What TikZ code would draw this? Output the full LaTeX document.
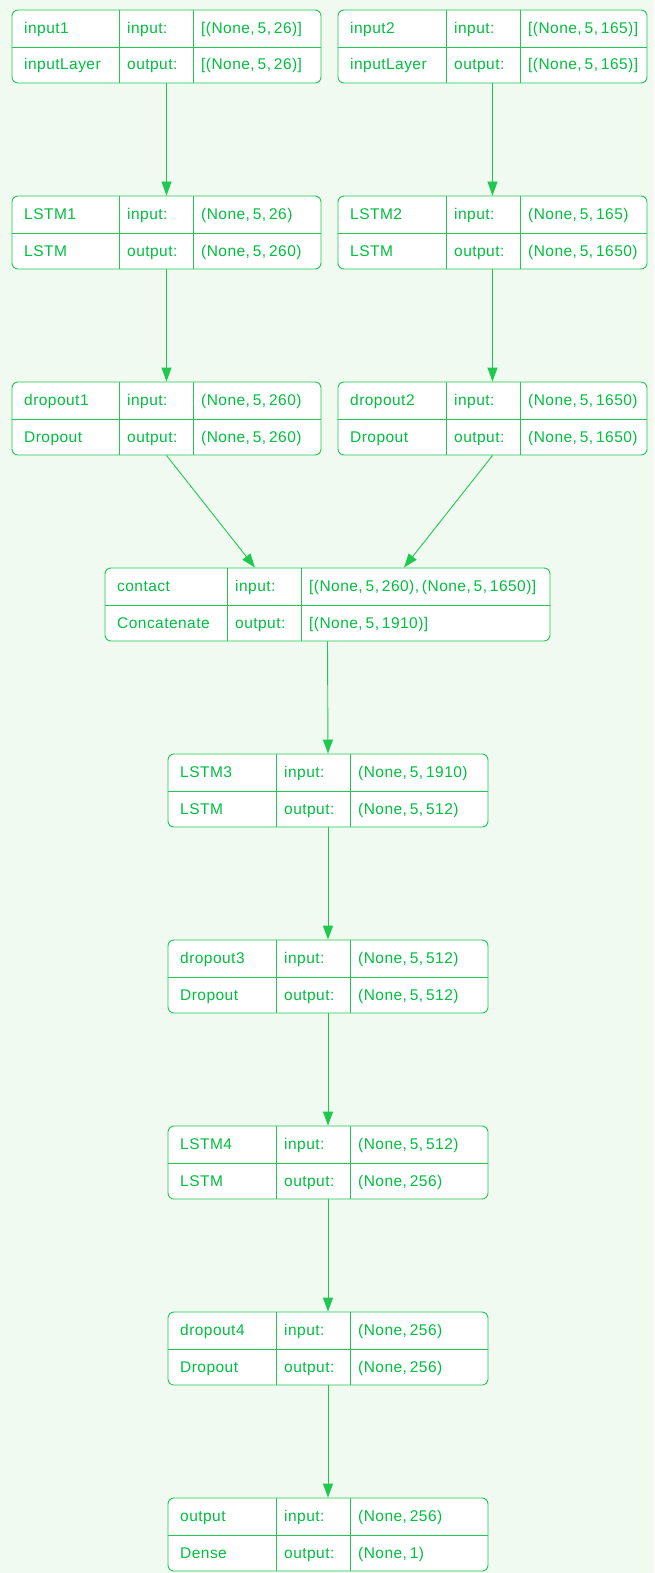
\documentclass[tikz,border=0pt]{standalone}
\usepackage{fontspec}
\setmainfont{Liberation Sans}[LetterSpace=3,WordSpace=0.6]
\usetikzlibrary{calc,arrows.meta}
\definecolor{bgc}{HTML}{F1FAF1}
\definecolor{lnc}{HTML}{1FC950}
\definecolor{txc}{HTML}{00BF3F}
\tikzset{
  layerbox/.style={draw=lnc, line width=0.9pt, fill=white, rounded corners=6pt, inner sep=0pt, minimum height=73pt},
  sep/.style={draw=lnc, line width=0.9pt},
  lbl/.style={text=txc, anchor=base west, inner sep=0pt, font=\fontsize{15.5}{18}\selectfont},
  arr/.style={draw=lnc, line width=0.9pt, -{Triangle[length=14pt,width=10pt]}}
}
% #1 name, #2 left, #3 top, #4 right, #5 first column width, #6 name text, #7 type text, #8 input, #9 output
\newcommand\layerunit[9]{%
  \node[layerbox, minimum width={#4-#2}] (#1) at ({(#2+#4)/2},{-(#3)-36.5}) {};
  \draw[sep] (#2,{-(#3)-37}) -- (#4,{-(#3)-37});
  \draw[sep] ({#2+#5},-#3) -- ({#2+#5},{-(#3)-73});
  \draw[sep] ({#2+#5+74},-#3) -- ({#2+#5+74},{-(#3)-73});
  \node[lbl] (#1-n) at ({#2+12},{-(#3)-23.5}) {#6};
  \node[lbl] (#1-t) at ({#2+12},{-(#3)-60}) {#7};
  \node[lbl] (#1-il) at ({#2+#5+8},{-(#3)-23.5}) {input:};
  \node[lbl] (#1-ol) at ({#2+#5+8},{-(#3)-60}) {output:};
  \node[lbl] (#1-iv) at ({#2+#5+82},{-(#3)-23.5}) {#8};
  \node[lbl] (#1-ov) at ({#2+#5+82},{-(#3)-60}) {#9};
}
\begin{document}
\begin{tikzpicture}[x=1pt,y=1pt]
\fill[bgc] (0,0) rectangle (654,-1573);
\useasboundingbox (0,0) rectangle (654,-1573);
\begin{scope}
\clip (0,0) rectangle (654,-1573);
\layerunit{in1}{12}{10}{321}{107}{input1}{inputLayer}{[(None, 5, 26)]}{[(None, 5, 26)]}
\layerunit{in2}{338}{10}{647}{108}{input2}{inputLayer}{[(None, 5, 165)]}{[(None, 5, 165)]}
\layerunit{l1}{12}{196}{321}{107}{LSTM1}{LSTM}{(None, 5, 26)}{(None, 5, 260)}
\layerunit{l2}{338}{196}{647}{108}{LSTM2}{LSTM}{(None, 5, 165)}{(None, 5, 1650)}
\layerunit{d1}{12}{382}{321}{107}{dropout1}{Dropout}{(None, 5, 260)}{(None, 5, 260)}
\layerunit{d2}{338}{382}{647}{108}{dropout2}{Dropout}{(None, 5, 1650)}{(None, 5, 1650)}
\layerunit{cat}{105}{568}{550}{122}{contact}{Concatenate}{[(None, 5, 260), (None, 5, 1650)]}{[(None, 5, 1910)]}
\layerunit{l3}{168}{754}{488}{108}{LSTM3}{LSTM}{(None, 5, 1910)}{(None, 5, 512)}
\layerunit{d3}{168}{940}{488}{108}{dropout3}{Dropout}{(None, 5, 512)}{(None, 5, 512)}
\layerunit{l4}{168}{1126}{488}{108}{LSTM4}{LSTM}{(None, 5, 512)}{(None, 256)}
\layerunit{d4}{168}{1312}{488}{108}{dropout4}{Dropout}{(None, 256)}{(None, 256)}
\layerunit{out}{168}{1498}{488}{108}{output}{Dense}{(None, 256)}{(None, 1)}
\draw[arr] (in1.south) -- (l1.north);
\draw[arr] (in2.south) -- (l2.north);
\draw[arr] (l1.south) -- (d1.north);
\draw[arr] (l2.south) -- (d2.north);
\draw[arr] (d1.south) -- ($(cat.north)+(-72.5,0)$);
\draw[arr] (d2.south) -- ($(cat.north)+(76.5,0)$);
\draw[arr] (cat.south) -- (l3.north);
\draw[arr] (l3.south) -- (d3.north);
\draw[arr] (d3.south) -- (l4.north);
\draw[arr] (l4.south) -- (d4.north);
\draw[arr] (d4.south) -- (out.north);
\end{scope}
\end{tikzpicture}
\end{document}
